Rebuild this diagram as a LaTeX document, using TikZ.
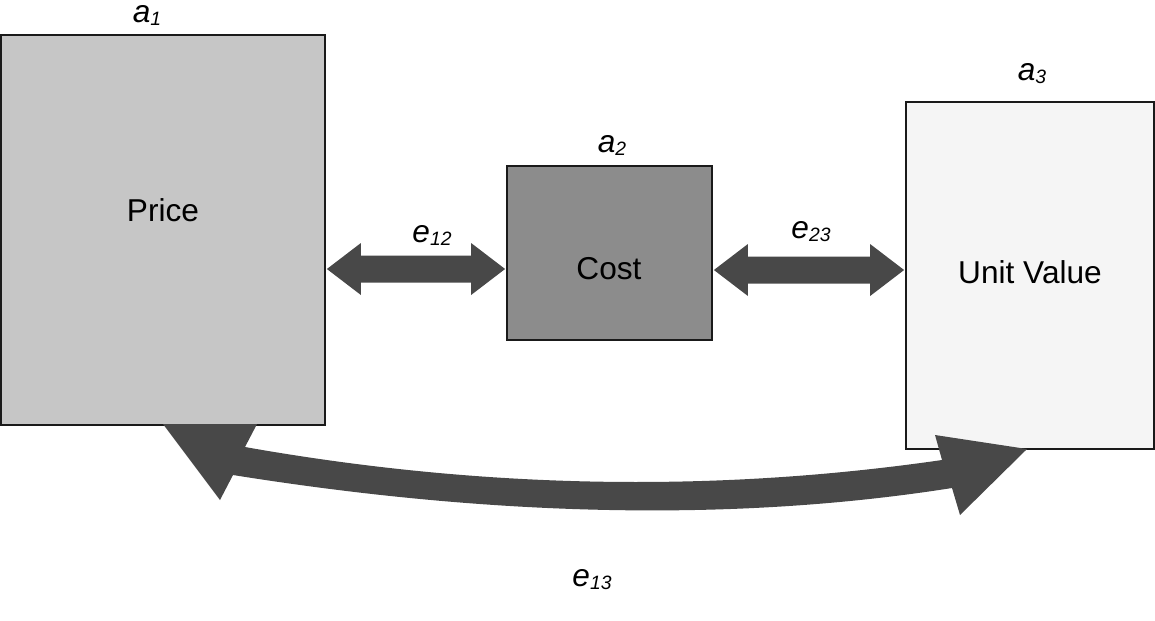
\documentclass[tikz,border=0pt]{standalone}
\usepackage{fontspec}
\setmainfont{Liberation Sans}
\usetikzlibrary{calc}

\definecolor{priceFill}{HTML}{C6C6C6}
\definecolor{costFill}{HTML}{8C8C8C}
\definecolor{valueFill}{HTML}{F5F5F5}
\definecolor{edgeLine}{HTML}{1A1A1A}
\definecolor{linkFill}{HTML}{484848}

% italic symbol with an italic, slightly lowered index
\newcommand\sublab[2]{\textit{#1}\raisebox{-1.8pt}{\fontsize{11}{13}\selectfont\textit{#2}}}

% thick two-headed block arrow between two points on one horizontal line
\newcommand\dblblock[2]{%
  \fill[linkFill] (#1) -- ($(#1)+(34,-26)$) -- ($(#1)+(34,-13.5)$)
    -- ($(#2)+(-34,-13.5)$) -- ($(#2)+(-34,-26)$) -- (#2)
    -- ($(#2)+(-34,26)$) -- ($(#2)+(-34,13.5)$)
    -- ($(#1)+(34,13.5)$) -- ($(#1)+(34,26)$) -- cycle;}

\tikzset{
  box/.style={draw=edgeLine, line width=1.2pt, rectangle, inner sep=0pt},
  txt/.style={anchor=base, inner sep=0pt, font=\fontsize{18}{21}\selectfont},
}

\begin{document}
\begin{tikzpicture}[x=0.02cm, y=-0.02cm]
\useasboundingbox (0,0) rectangle (1155,620);

% the three attributes
\node[box, fill=priceFill, minimum width=6.48cm, minimum height=7.8cm] (b1) at (163,230) {};
\node[box, fill=costFill,  minimum width=4.1cm,  minimum height=3.48cm] (b2) at (609.5,253) {};
\node[box, fill=valueFill, minimum width=4.96cm, minimum height=6.94cm] (b3) at (1030,275.5) {};

\node[txt] (t1) at (163,221) {Price};
\node[txt] (t2) at (609,279) {Cost};
\node[txt] (t3) at (1030,283) {Unit Value};

\node[txt] (l1) at (147,22)  {\sublab{a}{1}};
\node[txt] (l2) at (612,152) {\sublab{a}{2}};
\node[txt] (l3) at (1032,80) {\sublab{a}{3}};

% straight links between neighbouring attributes
\coordinate (y12) at (0,269);
\coordinate (y23) at (0,270);
\coordinate (e12a) at ([xshift=0.5pt]b1.east |- y12);
\coordinate (e12b) at ([xshift=-0.5pt]b2.west |- y12);
\coordinate (e23a) at ([xshift=0.5pt]b2.east |- y23);
\coordinate (e23b) at ([xshift=-0.5pt]b3.west |- y23);
\dblblock{e12a}{e12b}
\dblblock{e23a}{e23b}

\node[txt] (l12) at (432,242) {\sublab{e}{12}};
\node[txt] (l23) at (811,238) {\sublab{e}{23}};

% curved link between the outer attributes
\coordinate (ctipL) at (220,500);
\coordinate (cheadL1) at (163,424);
\coordinate (cheadL2) at (257,424);
\coordinate (ctopL) at (245,447);
\coordinate (ctopR) at (942,460);
\coordinate (cheadR1) at (935,435);
\coordinate (cheadR2) at (1027,449);
\coordinate (ctipR) at (960,515);
\coordinate (cbotR) at (952,488);
\coordinate (cbotL) at (233,475);
\fill[linkFill] (ctipL) -- (cheadL1) -- (cheadL2) -- (ctopL)
  .. controls (482,489) and (714,493) .. (ctopR)
  -- (cheadR1) -- (cheadR2) -- (ctipR) -- (cbotR)
  .. controls (736,522) and (496,517) .. (cbotL) -- cycle;

\node[txt] (l13) at (592,586) {\sublab{e}{13}};
\end{tikzpicture}
\end{document}
